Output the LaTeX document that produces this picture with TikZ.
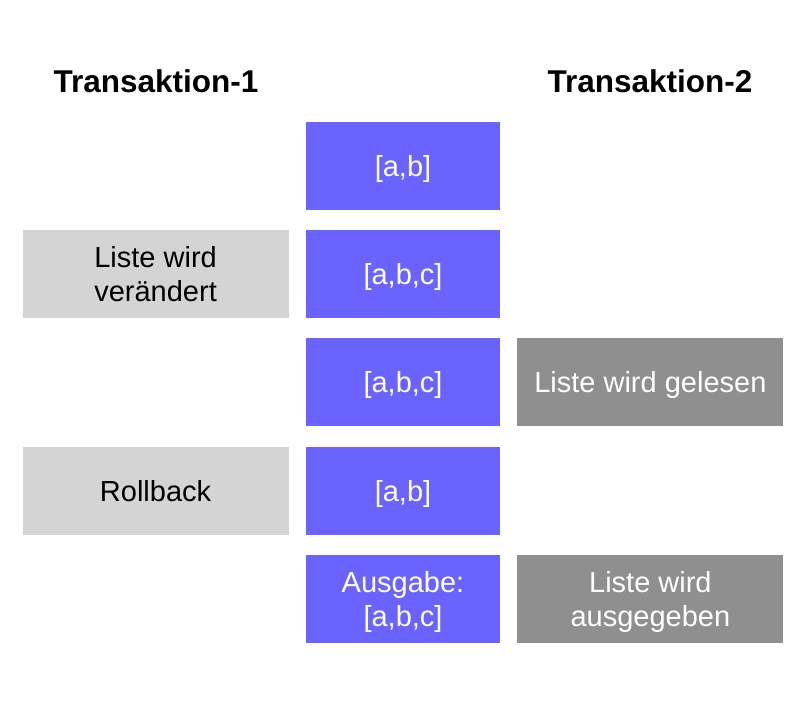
\documentclass[tikz,border=0pt]{standalone}
\usepackage{fontspec}
\setmainfont{Liberation Sans}
\definecolor{ListBlue}{RGB}{107,99,255}
\definecolor{TxLightGray}{RGB}{212,212,212}
\definecolor{TxDarkGray}{RGB}{143,143,143}
\usetikzlibrary{positioning}

\begin{document}
\begin{tikzpicture}[x=1pt, y=-1pt, every node/.style={font=\fontsize{29}{34}\selectfont},
  listbox/.style={rectangle, fill=ListBlue, text=white, minimum width=194pt, minimum height=88pt, text depth=0pt, align=center, inner sep=0pt},
  tonebox/.style={rectangle, fill=TxLightGray, text=black, minimum width=266pt, minimum height=88pt, text depth=0pt, align=center, inner sep=0pt},
  ttwobox/.style={rectangle, fill=TxDarkGray, text=white, minimum width=266pt, minimum height=88pt, text depth=0pt, align=center, inner sep=0pt},
  head/.style={font=\fontsize{31.5}{36}\selectfont\bfseries}
]
\useasboundingbox (0,0) rectangle (801,718);

% Transaction headers
\node[head] (h1) at (156,81) {Transaktion-1};
\node[head] (h2) at (650,81) {Transaktion-2};

% State of the list
\node[listbox] (s1) at (403,165.5) {[a,b]};
\node[listbox, below=20pt of s1] (s2) {[a,b,c]};
\node[listbox, below=20pt of s2] (s3) {[a,b,c]};
\node[listbox, below=20pt of s3] (s4) {[a,b]};
\node[listbox, below=20pt of s4] (s5) {Ausgabe:\\{}[a,b,c]};

% Transaction 1
\node[tonebox, left=17pt of s2] (t1a) {Liste wird\\verändert};
\node[tonebox, left=17pt of s4] (t1b) {Rollback};

% Transaction 2
\node[ttwobox, right=17pt of s3] (t2a) {Liste wird gelesen};
\node[ttwobox, right=17pt of s5] (t2b) {Liste wird\\ausgegeben};

\end{tikzpicture}
\end{document}
